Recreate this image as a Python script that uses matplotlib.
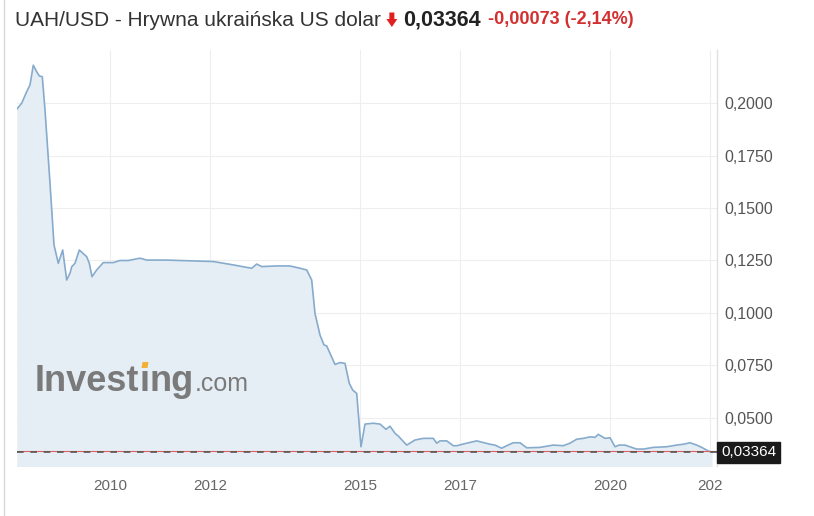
import matplotlib
matplotlib.use("Agg")
import matplotlib.pyplot as plt
from matplotlib.lines import Line2D
from matplotlib.patches import Polygon

# ---- data (decimal year, UAH/USD) ----
years = [2008.134, 2008.234, 2008.334, 2008.40, 2008.466, 2008.534, 2008.586, 2008.646,
         2008.70, 2008.80, 2008.88, 2008.966, 2009.054, 2009.134, 2009.20, 2009.234,
         2009.30, 2009.386, 2009.534, 2009.586, 2009.64, 2009.734, 2009.866, 2010.066,
         2010.20, 2010.366, 2010.60, 2010.734, 2011.134, 2012.066, 2012.466, 2012.834,
         2012.934, 2013.034, 2013.334, 2013.60, 2013.80, 2013.934, 2014.034, 2014.10,
         2014.20, 2014.28, 2014.334, 2014.40, 2014.50, 2014.60, 2014.70, 2014.786,
         2014.854, 2014.934, 2015.02, 2015.10, 2015.266, 2015.40, 2015.52, 2015.60,
         2015.70, 2015.766, 2015.934, 2016.10, 2016.266, 2016.466, 2016.534, 2016.60,
         2016.734, 2016.866, 2016.934, 2017.134, 2017.334, 2017.60, 2017.70, 2017.834,
         2017.934, 2018.066, 2018.20, 2018.334, 2018.60, 2018.866, 2019.066, 2019.20,
         2019.334, 2019.466, 2019.60, 2019.70, 2019.766, 2019.90, 2020.00, 2020.10,
         2020.18, 2020.30, 2020.434, 2020.534, 2020.666, 2020.866, 2021.134, 2021.334,
         2021.466, 2021.60, 2021.734, 2021.834, 2021.966, 2022.04]
values = [0.1970, 0.1999, 0.2054, 0.2086, 0.2180, 0.2149, 0.2129, 0.2125,
          0.1967, 0.1618, 0.1324, 0.1237, 0.1300, 0.1157, 0.1189, 0.1220,
          0.1237, 0.1300, 0.1268, 0.1237, 0.1173, 0.1205, 0.1240, 0.1240,
          0.1250, 0.1250, 0.1261, 0.1252, 0.1252, 0.1245, 0.1229, 0.1213,
          0.1233, 0.1221, 0.1224, 0.1224, 0.1213, 0.1205, 0.1157, 0.0998,
          0.0895, 0.0848, 0.0843, 0.0808, 0.0755, 0.0764, 0.0760, 0.0665,
          0.0633, 0.0617, 0.0363, 0.0471, 0.0475, 0.0471, 0.0446, 0.0461,
          0.0427, 0.0414, 0.0371, 0.0395, 0.0403, 0.0403, 0.0380, 0.0391,
          0.0391, 0.0368, 0.0368, 0.0380, 0.0391, 0.0375, 0.0371, 0.0356,
          0.0368, 0.0382, 0.0382, 0.0358, 0.0360, 0.0371, 0.0368, 0.0380,
          0.0399, 0.0403, 0.0410, 0.0408, 0.0422, 0.0403, 0.0406, 0.0363,
          0.0371, 0.0371, 0.0360, 0.0352, 0.0352, 0.0360, 0.0363, 0.0371,
          0.0375, 0.0382, 0.0371, 0.0360, 0.0343, 0.03364]

last_value = 0.03364
prev_close = 0.03437
y_ticks = [0.05, 0.075, 0.10, 0.125, 0.15, 0.175, 0.20]
y_tick_labels = ["0,0500", "0,0750", "0,1000", "0,1250", "0,1500", "0,1750", "0,2000"]
x_ticks = [2010, 2012, 2015, 2017, 2020, 2022]
x_tick_labels = ["2010", "2012", "2015", "2017", "2020", "202"]

title = "UAH/USD - Hrywna ukraińska US dolar"
price_text = "0,03364"
change_text = "-0,00073 (-2,14%)"

plt.rcParams['font.family'] = ['Liberation Sans', 'DejaVu Sans']

W, H = 814, 516
fig = plt.figure(figsize=(W / 100, H / 100), dpi=100)
fig.patch.set_facecolor("white")

def fx(px):
    return px / W

def fy(py):
    return 1 - py / H

ax_l, ax_r, ax_t, ax_b = 17, 717, 50, 466
ax = fig.add_axes([fx(ax_l), fy(ax_b), fx(ax_r - ax_l), (ax_b - ax_t) / H])
ax.set_xlim(2008.14, 2022.14)
ax.set_ylim(0.02714, 0.22524)

line_color = "#86abcc"
fill_color = "#e6eef5"
ax.fill_between(years, values, 0, color=fill_color, lw=0, zorder=1)
ax.plot(years, values, color=line_color, lw=1.2, zorder=3)

for s in ax.spines.values():
    s.set_visible(False)
ax.set_yticks(y_ticks)
ax.set_yticklabels(y_tick_labels)
ax.set_xticks(x_ticks)
ax.set_xticklabels(x_tick_labels)
ax.yaxis.tick_right()
ax.tick_params(axis="y", length=0, pad=5, labelsize=11.5, labelcolor="#555555")
ax.tick_params(axis="x", length=0, pad=9, labelsize=11, labelcolor="#666666")
ax.grid(True, color="#eeeeee", lw=0.8, zorder=0)
ax.set_axisbelow(True)

# right axis line
ax.plot([1, 1], [0, 1], transform=ax.transAxes, color="#e0e0e0", lw=1, clip_on=False, zorder=2)

# previous close and current value lines
ax.axhline(prev_close, color="#e06060", lw=0.8, zorder=4)
ax.axhline(last_value, color="#555555", lw=1.2, ls=(0, (4, 4)), zorder=4)

# last price label
ax.annotate(price_text, xy=(1.0, last_value), xycoords=("axes fraction", "data"),
            xytext=(3, 0), textcoords="offset points", va="center", ha="left",
            color="white", fontsize=11,
            bbox=dict(boxstyle="square,pad=0.25", fc="#1a1a1a", ec="#1a1a1a"),
            annotation_clip=False, zorder=6)

# page left border
fig.add_artist(Line2D([fx(4), fx(4)], [0, 1], color="#d8d8d8", lw=1))

fig.canvas.draw()
renderer = fig.canvas.get_renderer()

# watermark "Investing.com" with orange dot over the i
wm_color = "#7a7a7a"
wm_kw = dict(fontsize=26, fontweight="bold", color=wm_color, va="baseline", ha="left")
base_y = fy(391)
w1 = fig.text(fx(35), base_y, "Invest", **wm_kw)
x_px = w1.get_window_extent(renderer).x1
w2 = fig.text(x_px / W, base_y, "ı", **wm_kw)
e2 = w2.get_window_extent(renderer)
x_px = e2.x1
w3 = fig.text(x_px / W, base_y, "ng", **wm_kw)
x_px = w3.get_window_extent(renderer).x1 + 1
fig.text(x_px / W, base_y, ".com", fontsize=18, color=wm_color, va="baseline", ha="left")
cx = (e2.x0 + e2.x1) / 2
d_top, d_bot = 362, 368
fig.add_artist(Polygon([[fx(cx - 3), fy(d_bot)], [fx(cx + 3), fy(d_bot)],
                        [fx(cx + 4), fy(d_top)], [fx(cx - 2), fy(d_top)]],
                       closed=True, transform=fig.transFigure, fc="#f2b134", ec="none"))

# header
t1 = fig.text(fx(15), fy(20), title, fontsize=15, color="#333333", va="center", ha="left")
ax0 = t1.get_window_extent(renderer).x1 + 6
# red down arrow (filled)
arr = [(ax0 + 2.5, 12.5), (ax0 + 7.5, 12.5), (ax0 + 7.5, 19), (ax0 + 10.5, 19),
       (ax0 + 5, 27), (ax0 - 0.5, 19), (ax0 + 2.5, 19)]
fig.add_artist(Polygon([[fx(px), fy(py)] for px, py in arr], closed=True,
                       transform=fig.transFigure, fc="#e02020", ec="none"))
x_px = ax0 + 10.5 + 6
t3 = fig.text(x_px / W, fy(20), price_text, fontsize=15.5, fontweight="bold",
              color="#222222", va="center", ha="left")
x_px = t3.get_window_extent(renderer).x1 + 7
fig.text(x_px / W, fy(20), change_text, fontsize=13, fontweight="bold",
         color="#d32f2f", va="center", ha="left")

fig.savefig("out.png", dpi=100)
